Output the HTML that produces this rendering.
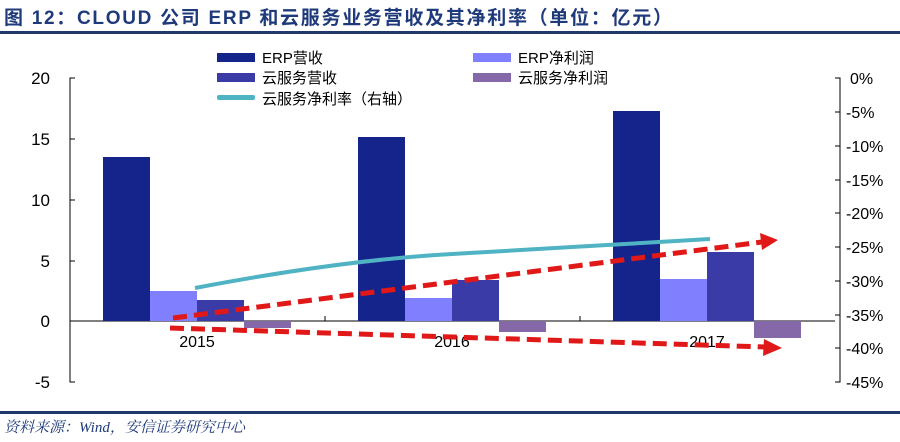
<!DOCTYPE html>
<html><head><meta charset="utf-8"><style>
body{margin:0;background:#fff;width:900px;height:437px;overflow:hidden;font-family:"Liberation Sans","Noto Sans CJK SC",sans-serif}
</style></head><body>
<svg width="900" height="437" xmlns="http://www.w3.org/2000/svg" font-family="Liberation Sans, Noto Sans CJK SC, sans-serif">
<text x="4" y="24" font-size="19" font-weight="bold" fill="#1f3a7a" textLength="668" lengthAdjust="spacing">图 12：CLOUD 公司 ERP 和云服务业务营收及其净利率（单位：亿元）</text>
<rect x="0" y="31" width="900" height="3" fill="#1f3a6a"/>
<rect x="0" y="411" width="900" height="3" fill="#1f3a6a"/>
<text x="4" y="432" font-size="15" font-style="italic" fill="#1f3a7a" font-family="Liberation Serif, Noto Serif CJK SC, serif">资料来源：Wind，安信证券研究中心</text>
<g font-size="15" fill="#000">
<rect x="217" y="53" width="38" height="9" fill="#14248a"/><text x="262" y="63">ERP营收</text>
<rect x="473" y="53" width="38" height="9" fill="#8080ff"/><text x="518" y="63">ERP净利润</text>
<rect x="217" y="73" width="38" height="9" fill="#3b3ba8"/><text x="262" y="83">云服务营收</text>
<rect x="473" y="73" width="38" height="9" fill="#8468a8"/><text x="518" y="83">云服务净利润</text>
<rect x="217" y="95" width="38" height="5" rx="2" fill="#4fb3c4"/><text x="262" y="104">云服务净利率（右轴）</text>
</g>
<g stroke="#000" stroke-width="1" fill="none">
<path d="M75 78H70V382H75"/><path d="M70 139H75M70 200H75M70 261H75M70 321H75"/>
<path d="M835 78H840V382H835"/>
<path d="M835 112H840M835 146H840M835 180H840M835 213H840M835 247H840M835 281H840M835 315H840M835 348H840"/>
<path d="M70 321H835"/><path d="M325 321V316M580 321V316"/>
</g>
<g font-size="17" fill="#000" text-anchor="end">
<text x="50" y="84">20</text><text x="50" y="145">15</text><text x="50" y="206">10</text><text x="50" y="267">5</text><text x="50" y="327">0</text><text x="50" y="388">-5</text>
</g>
<g font-size="16" fill="#000">
<text x="850" y="84">0%</text><text x="846" y="118">-5%</text><text x="846" y="152">-10%</text><text x="846" y="186">-15%</text><text x="846" y="219">-20%</text><text x="846" y="253">-25%</text><text x="846" y="287">-30%</text><text x="846" y="321">-35%</text><text x="846" y="354">-40%</text><text x="846" y="388">-45%</text>
</g>
<g>
<rect x="103" y="157" width="47" height="164" fill="#14248a"/>
<rect x="150" y="291" width="47" height="30" fill="#8080ff"/>
<rect x="197" y="300" width="47" height="21" fill="#3b3ba8"/>
<rect x="244" y="321" width="47" height="7" fill="#8468a8"/>
<rect x="358" y="137" width="47" height="184" fill="#14248a"/>
<rect x="405" y="298" width="47" height="23" fill="#8080ff"/>
<rect x="452" y="280" width="47" height="41" fill="#3b3ba8"/>
<rect x="499" y="321" width="47" height="11" fill="#8468a8"/>
<rect x="613" y="111" width="47" height="210" fill="#14248a"/>
<rect x="660" y="279" width="47" height="42" fill="#8080ff"/>
<rect x="707" y="252" width="47" height="69" fill="#3b3ba8"/>
<rect x="754" y="321" width="47" height="17" fill="#8468a8"/>
</g>
<g font-size="16" fill="#000" text-anchor="middle">
<text x="197" y="347">2015</text><text x="452" y="347">2016</text><text x="707" y="347">2017</text>
</g>
<path d="M195 288 C300 268 380 258 452 254 S640 243 710 239" stroke="#4fb3c4" stroke-width="4" fill="none"/>
<g stroke="#e01818" stroke-width="5" fill="none" stroke-dasharray="14 7">
<path d="M173 318 L762 242"/><path d="M170 328 L765 347"/>
</g>
<polygon points="760,233 778,240 762,250" fill="#e01818"/>
<polygon points="764,339 782,348 763,356" fill="#e01818"/>
</svg>
</body></html>
